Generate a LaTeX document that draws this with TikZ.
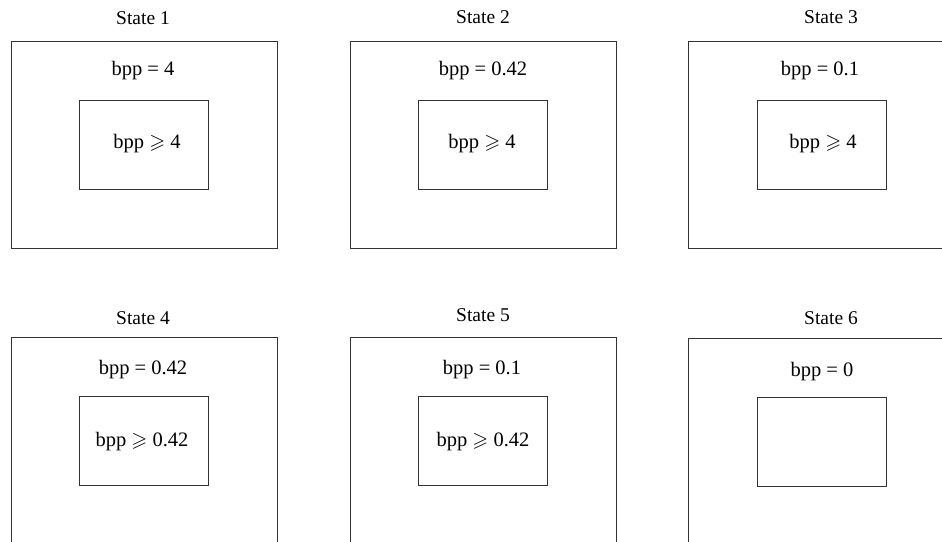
\documentclass[tikz,border=0pt]{standalone}
\usepackage{amssymb}
\usepackage{fontspec}
\setmainfont{Liberation Serif}
\begin{document}
\begin{tikzpicture}[x=1pt,y=-1pt,
  outerbox/.style={draw=black!80,line width=1.3pt,rectangle,minimum width=266pt,minimum height=207pt,inner sep=0pt,anchor=north west},
  innerbox/.style={draw=black!80,line width=1.3pt,rectangle,minimum width=129pt,minimum height=89pt,inner sep=0pt,anchor=north west},
  statelabel/.style={font=\fontsize{19.5}{22}\selectfont,inner sep=0pt},
  bpplabel/.style={font=\fontsize{20.5}{23}\selectfont,inner sep=0pt}]
\clip (0,0) rectangle (942,541);
% row 1
\node[outerbox] (o1) at (11,41) {};
\node[outerbox] (o2) at (350,41) {};
\node[outerbox] (o3) at (688,41) {};
\node[innerbox] (i1) at (79,100) {};
\node[innerbox] (i2) at (418,100) {};
\node[innerbox] (i3) at (757,100) {};
\node[statelabel] (s1) at (143,18) {State 1};
\node[statelabel] (s2) at (483,17) {State 2};
\node[statelabel] (s3) at (831,17) {State 3};
\node[bpplabel] (t1) at (143,71) {bpp = 4};
\node[bpplabel] (t2) at (483,71) {bpp = 0.42};
\node[bpplabel] (t3) at (820,71) {bpp = 0.1};
\node[bpplabel] (u1) at (147,144) {bpp $\geqslant$ 4};
\node[bpplabel] (u2) at (482,144) {bpp $\geqslant$ 4};
\node[bpplabel] (u3) at (823,144) {bpp $\geqslant$ 4};
% row 2
\node[outerbox] (o4) at (11,337) {};
\node[outerbox] (o5) at (350,337) {};
\node[outerbox] (o6) at (688,338) {};
\node[innerbox] (i4) at (79,396) {};
\node[innerbox] (i5) at (418,396) {};
\node[innerbox] (i6) at (757,397) {};
\node[statelabel] (s4) at (143,318) {State 4};
\node[statelabel] (s5) at (483,315) {State 5};
\node[statelabel] (s6) at (831,318) {State 6};
\node[bpplabel] (t4) at (143,370) {bpp = 0.42};
\node[bpplabel] (t5) at (482,370) {bpp = 0.1};
\node[bpplabel] (t6) at (822,372) {bpp = 0};
\node[bpplabel] (u4) at (142,442) {bpp $\geqslant$ 0.42};
\node[bpplabel] (u5) at (483,442) {bpp $\geqslant$ 0.42};
\end{tikzpicture}
\end{document}
